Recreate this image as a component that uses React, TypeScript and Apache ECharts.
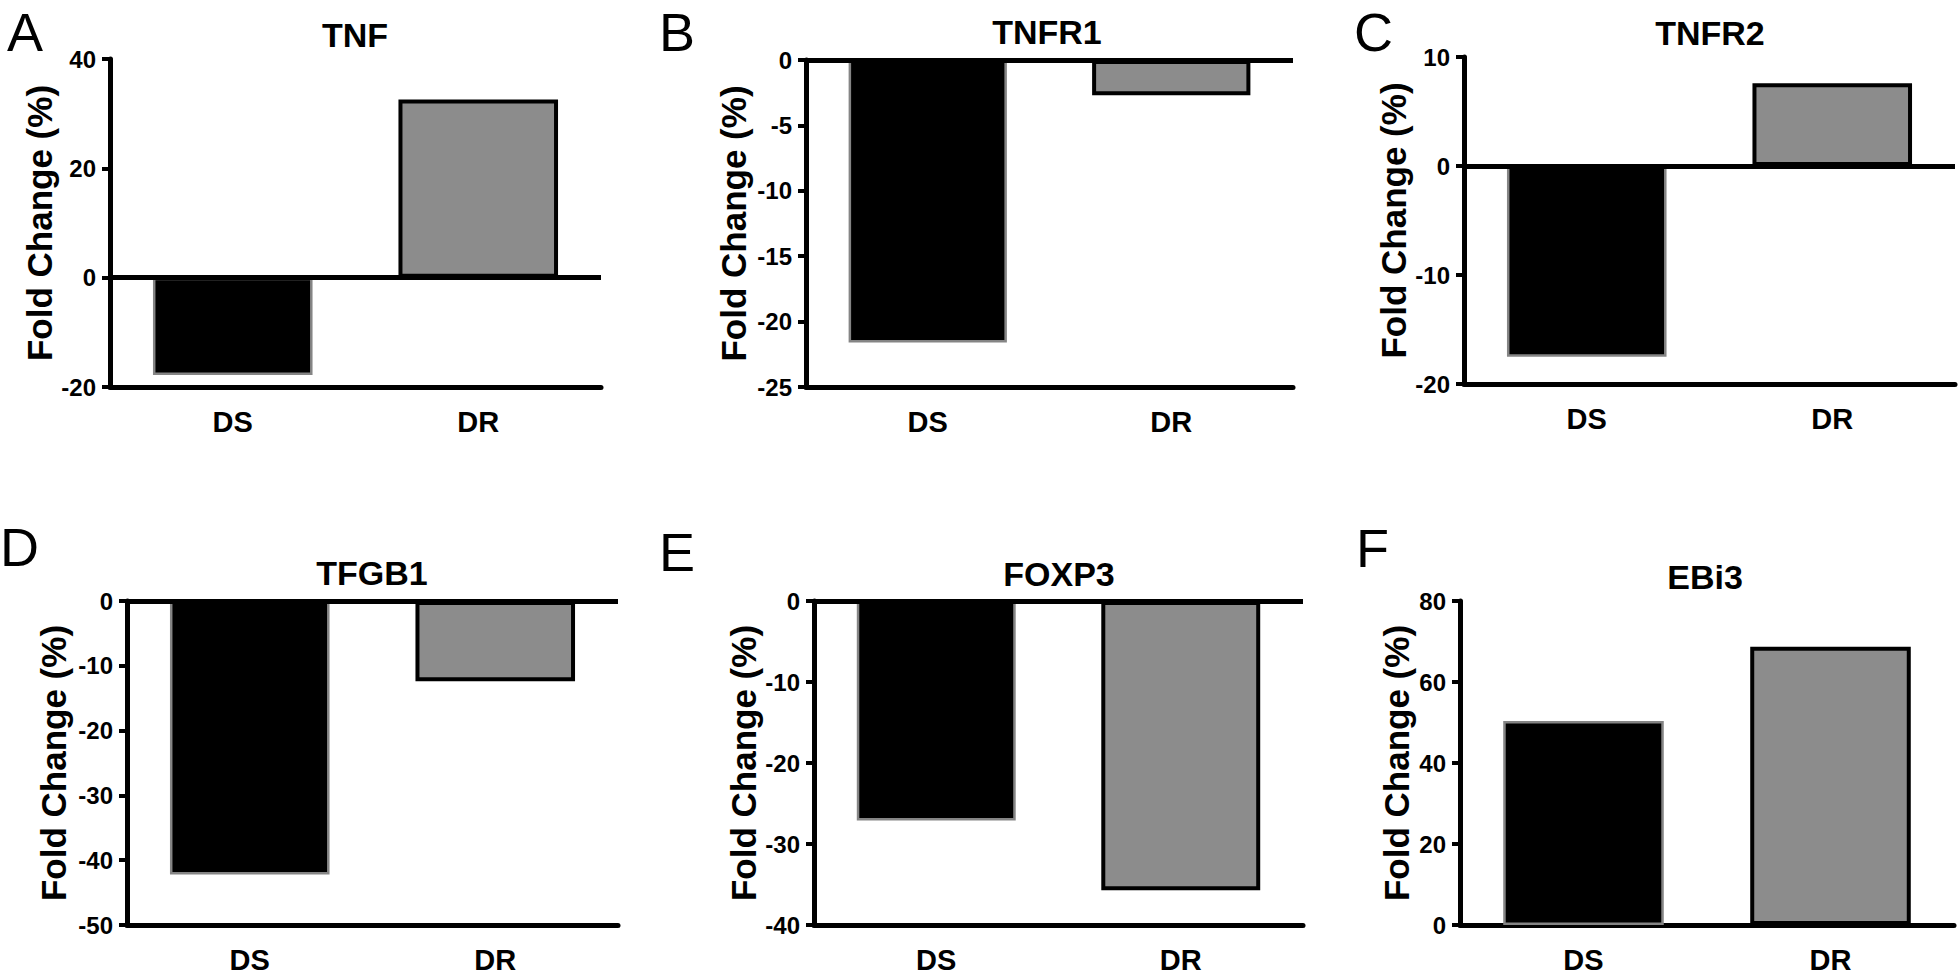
import React, { useEffect, useRef } from "react";
import * as echarts from "echarts";

// ---- data ----
const categories = ["DS", "DR"];
const panelLetters = ["A", "B", "C", "D", "E", "F"];
const panelTitles = ["TNF", "TNFR1", "TNFR2", "TFGB1", "FOXP3", "EBi3"];
const tnfValues = [-17.8, 32.6];
const tnfr1Values = [-21.6, -2.7];
const tnfr2Values = [-17.5, 7.6];
const tfgb1Values = [-42.2, -12.4];
const foxp3Values = [-27.1, -35.7];
const ebi3Values = [50.4, 68.7];
const yMins = [-20, -25, -20, -50, -40, 0];
const yMaxs = [40, 0, 10, 0, 0, 80];
const yIntervals = [20, 5, 10, 10, 10, 20];
const yAxisName = "Fold Change (%)";

const seriesValues = [tnfValues, tnfr1Values, tnfr2Values, tfgb1Values, foxp3Values, ebi3Values];

// ---- layout ----
const grids = [
  { left: 110, top: 59, width: 491, height: 328 },
  { left: 806, top: 60, width: 487, height: 327 },
  { left: 1464, top: 57, width: 491, height: 327 },
  { left: 127, top: 601, width: 491, height: 326 },
  { left: 814, top: 601, width: 489, height: 326 },
  { left: 1460, top: 601, width: 494, height: 327 },
];
const titlePos = [
  [355, 35],
  [1047, 32],
  [1710, 33],
  [372, 573],
  [1059, 574],
  [1705, 577],
];
const letterPos = [
  [7, 12],
  [659, 12],
  [1354, 12],
  [0, 527],
  [659, 532],
  [1356, 528],
];
const nameGaps = [52, 55, 52, 56, 52, 46];
const showZeroLine = [true, true, true, true, true, false];

const FONT = "'Liberation Sans', Arial, Helvetica, sans-serif";

export default function App() {
  const ref = useRef<HTMLDivElement>(null);
  useEffect(() => {
    if (!ref.current) return;
    const chart = echarts.init(ref.current, undefined, { renderer: "svg" });

    const gridOpt = grids.map((g) => ({ ...g, containLabel: false }));
    const xAxes = grids.map((_, i) => ({
      type: "category",
      gridIndex: i,
      data: categories,
      position: "bottom",
      axisLine: { onZero: false, lineStyle: { color: "#000", width: 5 } },
      axisTick: { alignWithLabel: true, length: 8, lineStyle: { color: "#000", width: 4 } },
      axisLabel: { fontFamily: FONT, fontWeight: "bold", fontSize: 29, color: "#000", margin: 20 },
      splitLine: { show: false },
    }));
    const yAxes = grids.map((_, i) => ({
      type: "value",
      gridIndex: i,
      min: yMins[i],
      max: yMaxs[i],
      interval: yIntervals[i],
      name: yAxisName,
      nameLocation: "middle",
      nameGap: nameGaps[i],
      nameTextStyle: { fontFamily: FONT, fontWeight: "bold", fontSize: 35, color: "#000" },
      axisLine: { show: true, onZero: false, lineStyle: { color: "#000", width: 5 } },
      axisTick: { show: true, length: 8, lineStyle: { color: "#000", width: 4 } },
      axisLabel: { fontFamily: FONT, fontWeight: "bold", fontSize: 24, color: "#000", margin: 14 },
      splitLine: { show: false },
    }));
    const series = seriesValues.map((vals, i) => ({
      type: "bar",
      xAxisIndex: i,
      yAxisIndex: i,
      barWidth: "65%",
      data: vals.map((v, j) => ({
        value: v,
        itemStyle:
          j === 0
            ? { color: "#000", borderColor: "#858585", borderWidth: 2.5 }
            : { color: "#8c8c8c", borderColor: "#000", borderWidth: 4 },
      })),
      markLine: showZeroLine[i]
        ? {
            silent: true,
            symbol: ["none", "none"],
            label: { show: false },
            lineStyle: { color: "#000", width: 5, type: "solid" },
            data: [{ yAxis: 0 }],
          }
        : undefined,
    }));

    const graphics: any[] = [];
    panelLetters.forEach((l, i) => {
      graphics.push({
        type: "text",
        x: letterPos[i][0],
        y: letterPos[i][1],
        style: {
          text: l,
          fontFamily: FONT,
          fontSize: 54,
          fontWeight: "normal",
          fill: "#000",
          lineHeight: 40,
          align: "left",
          verticalAlign: "top",
          textAlign: "left",
          textVerticalAlign: "top",
        },
      });
    });
    panelTitles.forEach((t, i) => {
      graphics.push({
        type: "text",
        x: titlePos[i][0],
        y: titlePos[i][1],
        style: {
          text: t,
          fontFamily: FONT,
          fontSize: 34,
          fontWeight: "bold",
          fill: "#000",
          align: "center",
          verticalAlign: "middle",
          textAlign: "center",
          textVerticalAlign: "middle",
        },
      });
    });

    chart.setOption({
      animation: false,
      backgroundColor: "#fff",
      grid: gridOpt,
      xAxis: xAxes,
      yAxis: yAxes,
      series,
      graphic: graphics,
    });
    return () => chart.dispose();
  }, []);
  return <div ref={ref} style={{ position: "fixed", left: 0, top: 0, width: 1958, height: 974 }} />;
}
